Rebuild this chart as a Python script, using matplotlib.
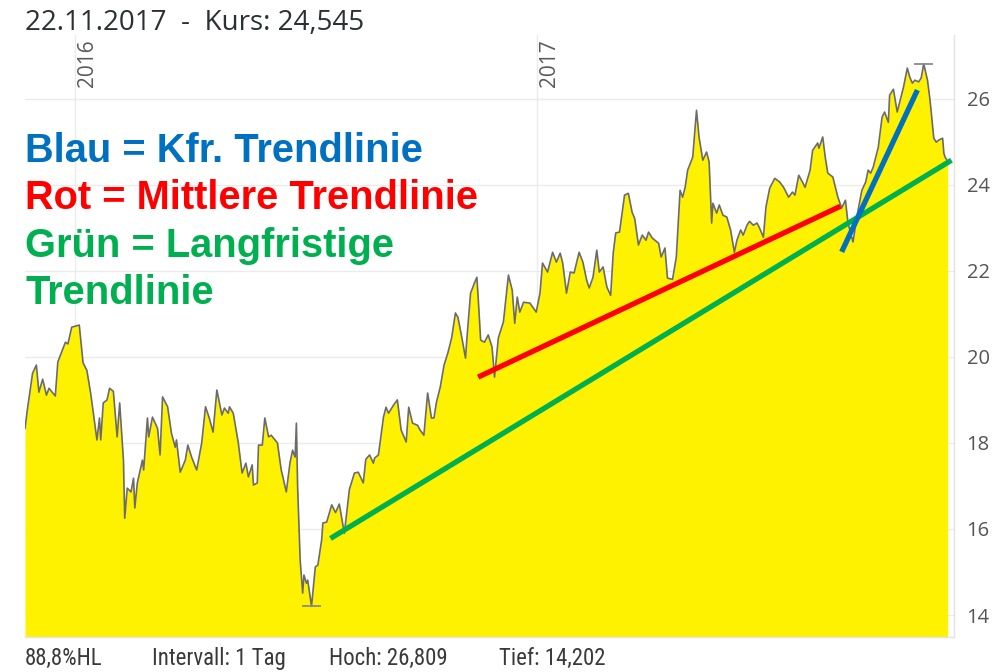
import numpy as np
import pandas as pd
import matplotlib
matplotlib.use('Agg')
import matplotlib.pyplot as plt
from matplotlib import font_manager

# ---------------- data ----------------
start_date = '2015-11-22'
day_offsets = [0, 2, 6, 9, 11, 14, 17, 19, 24, 26, 32, 34, 37, 43, 46, 49, 52, 57, 59, 60,
               62, 65, 67, 70, 73, 75, 78, 79, 81, 84, 86, 87, 89, 93, 94, 97, 98, 101, 105, 107,
               109, 113, 116, 119, 120, 123, 127, 129, 132, 136, 140, 143, 146, 149, 152, 156, 158, 161, 162, 165,
               169, 172, 175, 177, 180, 181, 184, 185, 188, 190, 193, 195, 198, 200, 203, 204, 207, 210, 212, 214,
               215, 216, 218, 220, 221, 223, 224, 227, 230, 232, 235, 236, 239, 243, 246, 249, 253, 257, 261, 264,
               268, 270, 273, 276, 277, 280, 284, 286, 288, 292, 295, 298, 302, 304, 307, 311, 313, 316, 319, 322,
               324, 326, 329, 332, 335, 338, 341, 343, 346, 349, 350, 353, 356, 358, 359, 361, 364, 367, 370, 372,
               375, 379, 383, 386, 388, 390, 392, 395, 400, 405, 408, 410, 414, 418, 421, 424, 426, 429, 432, 435,
               439, 442, 445, 447, 450, 453, 455, 458, 461, 464, 466, 468, 471, 475, 478, 481, 483, 486, 489, 492,
               494, 497, 502, 504, 507, 509, 513, 516, 519, 521, 523, 525, 529, 532, 534, 537, 540, 542, 544, 545,
               548, 550, 553, 556, 559, 562, 564, 567, 569, 572, 574, 577, 580, 582, 585, 587, 590, 594, 598, 601,
               605, 608, 610, 613, 616, 618, 622, 624, 628, 629, 632, 634, 636, 640, 642, 644, 647, 650, 652, 656,
               659, 663, 666, 668, 670, 672, 676, 679, 681, 684, 685, 688, 691, 693, 696, 699, 701, 703, 705, 708,
               710, 712, 715, 717, 720, 722, 724, 727, 728, 729, 731]
prices = [18.34, 18.80, 19.62, 19.81, 19.18, 19.48, 19.11, 19.27, 19.09, 19.88, 20.34, 20.30, 20.69, 20.74, 19.86, 19.69, 19.16, 18.07, 18.58, 18.07,
          18.93, 19.00, 19.27, 19.20, 18.14, 18.93, 17.60, 16.25, 16.95, 16.86, 17.18, 16.49, 17.07, 17.60, 17.37, 18.58, 18.14, 18.60, 18.34, 17.72,
          19.07, 18.84, 18.23, 17.90, 18.07, 17.32, 17.60, 17.95, 17.67, 17.37, 18.00, 18.84, 18.58, 18.25, 19.23, 18.65, 18.81, 18.69, 18.84, 18.69,
          18.00, 17.30, 17.53, 17.21, 17.49, 17.02, 17.07, 17.95, 17.95, 18.58, 18.14, 18.18, 18.07, 18.00, 17.37, 17.25, 16.86, 17.55, 17.83, 17.67,
          18.46, 16.97, 15.28, 14.51, 14.93, 14.74, 14.81, 14.202, 15.12, 15.16, 15.74, 16.14, 16.16, 16.56, 16.38, 16.58, 15.90, 16.92, 17.30, 17.32,
          17.07, 17.62, 17.72, 17.53, 17.65, 17.72, 18.60, 18.83, 18.69, 18.88, 19.00, 18.30, 18.02, 18.83, 18.46, 18.41, 18.30, 18.18, 19.16, 18.58,
          18.58, 18.95, 19.30, 19.81, 20.09, 20.44, 21.02, 20.92, 20.46, 19.97, 20.39, 21.48, 21.71, 21.85, 21.39, 20.39, 20.34, 20.51, 20.23, 19.53,
          20.44, 20.81, 21.90, 21.55, 20.78, 21.39, 21.04, 21.27, 21.25, 21.04, 21.48, 22.18, 21.97, 22.43, 22.20, 22.41, 22.18, 21.48, 21.97, 21.95,
          22.43, 22.20, 21.78, 21.60, 21.85, 22.48, 21.97, 22.09, 21.62, 21.43, 22.41, 22.88, 22.90, 23.76, 23.80, 23.36, 23.22, 22.60, 22.83, 22.71,
          22.90, 22.76, 22.64, 22.32, 22.53, 21.83, 21.80, 22.32, 23.87, 23.71, 23.94, 24.34, 24.64, 25.73, 25.11, 24.57, 24.76, 24.53, 23.11, 23.57,
          23.34, 23.53, 23.29, 23.25, 22.95, 22.43, 22.71, 22.95, 22.83, 23.06, 23.15, 23.06, 23.11, 22.99, 22.78, 23.48, 23.92, 24.15, 24.06, 23.94,
          23.71, 23.83, 23.76, 24.22, 24.06, 23.94, 24.34, 24.80, 24.97, 24.85, 25.11, 24.64, 24.27, 24.18, 23.94, 23.71, 23.46, 23.64, 23.11, 22.67,
          23.25, 23.87, 24.06, 24.34, 24.27, 24.41, 24.87, 25.57, 25.69, 25.45, 26.08, 26.22, 25.69, 25.92, 26.27, 26.71, 26.50, 26.36, 26.43, 26.39,
          26.48, 26.809, 26.43, 25.97, 25.08, 24.99, 25.04, 25.08, 24.73, 24.64, 24.545]

# trend lines (day offset, value)
green_days = [242, 734]
green_vals = [15.78, 24.57]
red_days = [359, 646]
red_vals = [19.53, 23.50]
blue_days = [647, 707]
blue_vals = [22.44, 26.20]

y_ticks = [14, 16, 18, 20, 22, 24, 26]
year_starts = ['2016-01-01', '2017-01-01']
year_labels = ['2016', '2017']
title_text = '22.11.2017  -  Kurs: 24,545'
legend_texts = ['Blau = Kfr. Trendlinie', 'Rot = Mittlere Trendlinie',
                'Grün = Langfristige', 'Trendlinie']
legend_colors = ['#0070C0', '#FF0000', '#00B050', '#00B050']
footer_texts = ['88,8%HL', 'Intervall: 1 Tag', 'Hoch: 26,809', 'Tief: 14,202']

# ---------------- fonts ----------------
names = {f.name for f in font_manager.fontManager.ttflist}
def pick(*cands):
    for c in cands:
        if c in names:
            return c
    return 'DejaVu Sans'
narrow_font = pick('Liberation Sans Narrow', 'Roboto Condensed', 'Open Sans Condensed', 'Roboto')
bold_font = pick('Liberation Sans', 'Arial', 'DejaVu Sans')
ui_font = pick('Open Sans', 'Noto Sans', 'DejaVu Sans')

# ---------------- figure ----------------
W, H = 999, 672
fig = plt.figure(figsize=(W / 100, H / 100), dpi=100)
ax = fig.add_axes([25 / W, 1 - 637 / H, (954 - 25) / W, (637 - 35) / H])

base = pd.Timestamp(start_date)
def to_dates(d):
    return (base + pd.to_timedelta(d, unit='D')).to_numpy()

dates = to_dates(day_offsets)
ymin, ymax = 13.49, 27.48
ax.set_ylim(ymin, ymax)
ax.set_xlim(to_dates([0])[0], to_dates([736])[0])

ax.fill_between(dates, prices, ymin, color='#FFF200', lw=0, zorder=2)
ax.plot(dates, prices, color='#6b6b6b', lw=1.2, zorder=3)

# high / low markers
p = np.array(prices)
imax, imin = int(np.argmax(p)), int(np.argmin(p))
for i in (imax, imin):
    d0 = to_dates([day_offsets[i] - 7.5])[0]
    d1 = to_dates([day_offsets[i] + 7.5])[0]
    ax.hlines(p[i], d0, d1, color='#8a8a8a', lw=1.3, zorder=3)

# trend lines
ax.plot(to_dates(green_days), green_vals, color='#00B050', lw=3.8, solid_capstyle='butt', zorder=4)
ax.plot(to_dates(red_days), red_vals, color='#FF0000', lw=3.8, solid_capstyle='butt', zorder=4)
ax.plot(to_dates(blue_days), blue_vals, color='#0070C0', lw=3.8, solid_capstyle='butt', zorder=5)

# grid
ax.set_yticks(y_ticks)
ax.set_xticks(pd.to_datetime(year_starts).to_numpy())
ax.grid(True, color='#ebebeb', lw=1.0, zorder=0)
ax.set_axisbelow(True)
ax.yaxis.tick_right()
ax.tick_params(axis='y', length=0, pad=9, labelsize=14.5, labelcolor='#555555')
ax.tick_params(axis='x', length=0, labelbottom=False)
for lab in ax.get_yticklabels():
    lab.set_fontfamily(ui_font)
for s in ['top', 'left']:
    ax.spines[s].set_visible(False)
for s in ['right', 'bottom']:
    ax.spines[s].set_color('#e3e3e3')
    ax.spines[s].set_linewidth(1.0)

# year labels
for d, lab in zip(year_starts, year_labels):
    ax.text(pd.Timestamp(d) + pd.Timedelta(days=1.5), ymax - 0.1, lab, rotation=90,
            ha='left', va='top', fontsize=15, color='#5a5a5a', family=ui_font, zorder=6)

# title
fig.text(25 / W, 1 - 30 / H, title_text, fontsize=20, color='#2b3035',
         family=ui_font, va='baseline', ha='left')

# legend texts
baselines = [161.7, 209.2, 256.7, 304.2]
for txt, col, b in zip(legend_texts, legend_colors, baselines):
    fig.text(25 / W, 1 - b / H, txt, fontsize=28.7, fontweight='bold', color=col,
             family=bold_font, va='baseline', ha='left', zorder=10)

# footer
footer_x = [25, 152, 329, 499]
for txt, x in zip(footer_texts, footer_x):
    fig.text(x / W, 1 - 665 / H, txt, fontsize=16.5, color='#3a3a3a',
             family=narrow_font, va='baseline', ha='left')

fig.savefig('out.png', dpi=100, facecolor='white')
